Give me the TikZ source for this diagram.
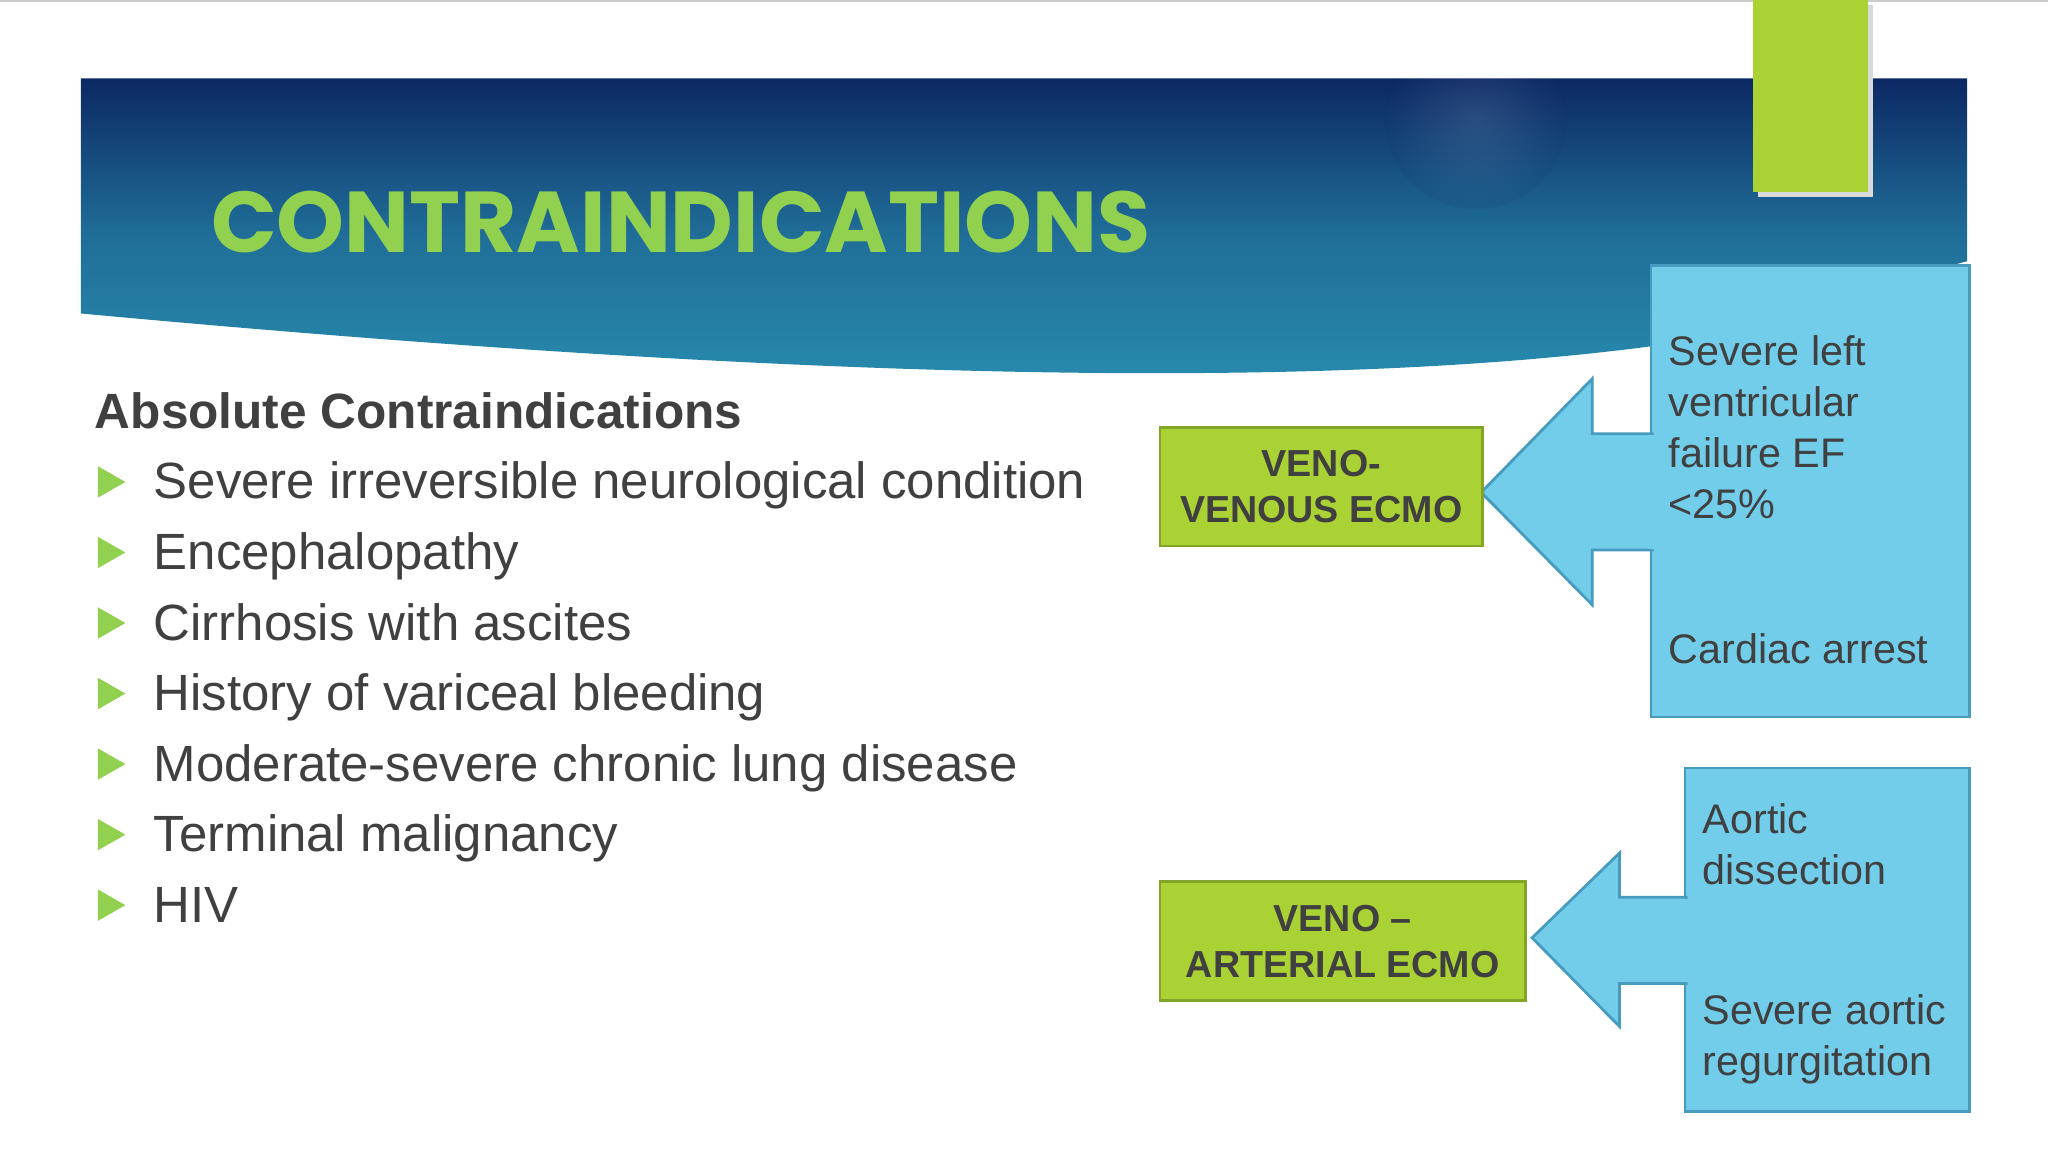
\documentclass[tikz,border=0pt]{standalone}
\usepackage{fontspec}
\setmainfont{Liberation Sans}
\newfontfamily\titlefont{Poppins}
\definecolor{tgreen}{RGB}{146,208,80}
\definecolor{bgreen}{RGB}{170,210,52}
\definecolor{bgreenD}{RGB}{130,165,40}
\definecolor{lblue}{RGB}{114,205,234}
\definecolor{lblueD}{RGB}{70,155,190}
\definecolor{navy}{RGB}{12,40,100}
\definecolor{teal}{RGB}{40,140,175}
\definecolor{txt}{RGB}{64,64,64}
\tikzset{
  body/.style={anchor=base west,text=txt,font=\fontsize{11.1}{13}\selectfont,inner sep=0},
  bul/.style={fill=tgreen,draw=none},
  gbox/.style={draw=bgreenD,line width=0.6pt,fill=bgreen,align=center,font=\bfseries\fontsize{8.2}{10}\selectfont,text=txt},
  bbox/.style={draw=lblueD,line width=0.6pt,fill=lblue},
  btxt/.style={anchor=west,align=left,text=txt,font=\fontsize{9}{11.1}\selectfont,inner sep=0},
}
\begin{document}
\begin{tikzpicture}[x=0.1mm,y=-0.1mm]
\useasboundingbox (0,0) rectangle (1568,882);
\fill[white] (0,0) rectangle (1568,882);
\draw[gray!40,line width=0.5pt] (0,1) -- (1568,1);
% banner
\shade[top color=navy,bottom color=teal,middle color=teal!70!navy] (62,60) -- (1506,60) -- (1506,200) -- (1265,265)
  .. controls (1000,300) and (600,290) .. (62,240) -- cycle;
\begin{scope}
\clip (62,60) rectangle (1506,200);
\shade[inner color=white,outer color=navy,opacity=0.10] (1130,90) circle (70);
\end{scope}
\fill[gray!30] (1346,4) rectangle (1434,151);
\fill[bgreen] (1342,0) rectangle (1430,147);
\node[anchor=west,text=tgreen,font=\titlefont\bfseries\fontsize{18.8}{22}\selectfont,inner sep=0] (title) at (161,170) {CONTRAINDICATIONS};
% list
\node[anchor=base west,text=txt,font=\bfseries\fontsize{10.8}{13}\selectfont,inner sep=0] (abs) at (72,328) {Absolute Contraindications};
\foreach \y/\t [count=\i] in {369/Severe irreversible neurological condition,423/Encephalopathy,477/Cirrhosis with ascites,531/History of variceal bleeding,585/Moderate-severe chronic lung disease,639/Terminal malignancy,693/HIV}{
  \fill[bul] (75,\y-12) -- (96,\y) -- (75,\y+12) -- cycle;
  \node[body] (item\i) at (117,\y+13) {\t};
}
% VV
\draw[bbox] (1264,203) rectangle (1508,549);
\coordinate (a1) at (1134,377);
\draw[bbox] (a1) -- (1219,290) -- (1219,332) -- (1265,332) -- (1265,421) -- (1219,421) -- (1219,463) -- cycle;
\fill[lblue] (1262,333) rectangle (1268,420);
\node[gbox,minimum width=247*0.1mm,minimum height=91*0.1mm,anchor=north west] (vv) at (887,326) {VENO-\\VENOUS ECMO};
\node[btxt] (t1) at (1277,327) {Severe left\\ventricular\\failure EF\\<25\%};
\node[btxt] (t2) at (1277,497) {Cardiac arrest};
% VA
\draw[bbox] (1290,588) rectangle (1508,851);
\coordinate (a2) at (1173,718);
\draw[bbox] (a2) -- (1240,653) -- (1240,687) -- (1291,687) -- (1291,753) -- (1240,753) -- (1240,786) -- cycle;
\fill[lblue] (1288,688) rectangle (1294,752);
\node[gbox,minimum width=280*0.1mm,minimum height=91*0.1mm,anchor=north west] (va) at (887,674) {VENO --\\ARTERIAL ECMO};
\node[btxt] (t3) at (1303,646) {Aortic\\dissection};
\node[btxt] (t4) at (1303,796) {Severe aortic\\regurgitation};
\end{tikzpicture}
\end{document}
